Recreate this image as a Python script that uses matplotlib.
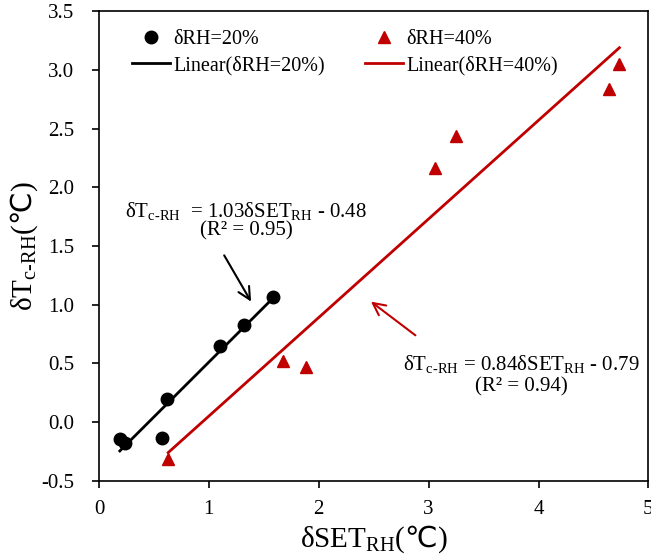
import numpy as np
import matplotlib
matplotlib.use("Agg")
import matplotlib.pyplot as plt

plt.rcParams['font.family'] = ['Liberation Serif', 'DejaVu Serif', 'DejaVu Sans']
plt.rcParams['mathtext.fontset'] = 'custom'
plt.rcParams['mathtext.rm'] = 'Liberation Serif'
plt.rcParams['mathtext.it'] = 'Liberation Serif:italic'
plt.rcParams['mathtext.sf'] = 'Noto Sans CJK SC'  # only used for the ℃ sign

# data
x20 = [0.19, 0.24, 0.57, 0.615, 1.10, 1.32, 1.585]
y20 = [-0.147, -0.176, -0.139, 0.20, 0.65, 0.826, 1.062]
x40 = [0.63, 1.675, 1.88, 3.055, 3.245, 4.645, 4.736]
y40 = [-0.318, 0.52, 0.47, 2.166, 2.436, 2.834, 3.05]

# trendline coefficients (slope, intercept) as drawn
fit20 = [0.934, -0.424]
fit40 = [0.84, -0.79]

red = '#C00000'

fig = plt.figure(figsize=(6.51, 5.57), dpi=100)
ax = fig.add_axes([0.152, 0.137, 0.844, 0.843])

ax.plot(x20, y20, 'o', color='black', markersize=9, label='δRH=20%', zorder=3)
xs = np.array([min(x20), max(x20)])
ax.plot(xs, fit20[0] * xs + fit20[1], color='black', lw=2, label='Linear(δRH=20%)')

ax.plot(x40, y40, '^', color=red, markersize=9, label='δRH=40%', zorder=3)
xs = np.array([min(x40), max(x40)])
ax.plot(xs, fit40[0] * xs + fit40[1], color=red, lw=2, label='Linear(δRH=40%)')

ax.set_xlim(0, 5)
ax.set_ylim(-0.5, 3.5)
ax.set_xticks([0, 1, 2, 3, 4, 5])
ax.set_yticks(np.arange(-0.5, 3.51, 0.5))
ax.yaxis.set_major_formatter(matplotlib.ticker.FormatStrFormatter('%.1f'))
ax.tick_params(direction='out', labelsize=15, length=5, width=1.2)
ax.tick_params(axis='y', pad=13)
ax.tick_params(axis='x', pad=9)
for s in ax.spines.values():
    s.set_linewidth(1.2)

ax.set_xlabel(r'δSET$_{\mathrm{RH}}$($\mathsf{℃}$)', fontsize=21, labelpad=3)
ax.set_ylabel(r'δT$_{\text{c-RH}}$($\mathsf{℃}$)', fontsize=21, labelpad=1)

ax.legend(ncol=2, frameon=False, fontsize=14.5, loc='upper left',
          bbox_to_anchor=(0.06, 0.959), borderaxespad=0, borderpad=0,
          handlelength=1.9, columnspacing=2.0, labelspacing=0.3, handletextpad=0.15)

# equations
ax.text(1.34, 1.80, r'δT$_{\text{c-RH}}$  = 1.03δSET$_{\mathrm{RH}}$ - 0.48',
        fontsize=15, ha='center', va='center')
ax.text(1.34, 1.63, '(R² = 0.95)', fontsize=15, ha='center', va='center')
ax.annotate('', xy=(1.397, 1.005), xytext=(1.127, 1.44),
            arrowprops=dict(arrowstyle='->', color='black', lw=1.5,
                            mutation_scale=22))

ax.text(3.84, 0.49, r'δT$_{\text{c-RH}}$ = 0.84δSET$_{\mathrm{RH}}$ - 0.79',
        fontsize=15, ha='center', va='center')
ax.text(3.84, 0.30, '(R² = 0.94)', fontsize=15, ha='center', va='center')
ax.annotate('', xy=(2.455, 1.04), xytext=(2.9, 0.724),
            arrowprops=dict(arrowstyle='->', color=red, lw=1.5,
                            mutation_scale=22))

fig.savefig('out.png', dpi=100)
